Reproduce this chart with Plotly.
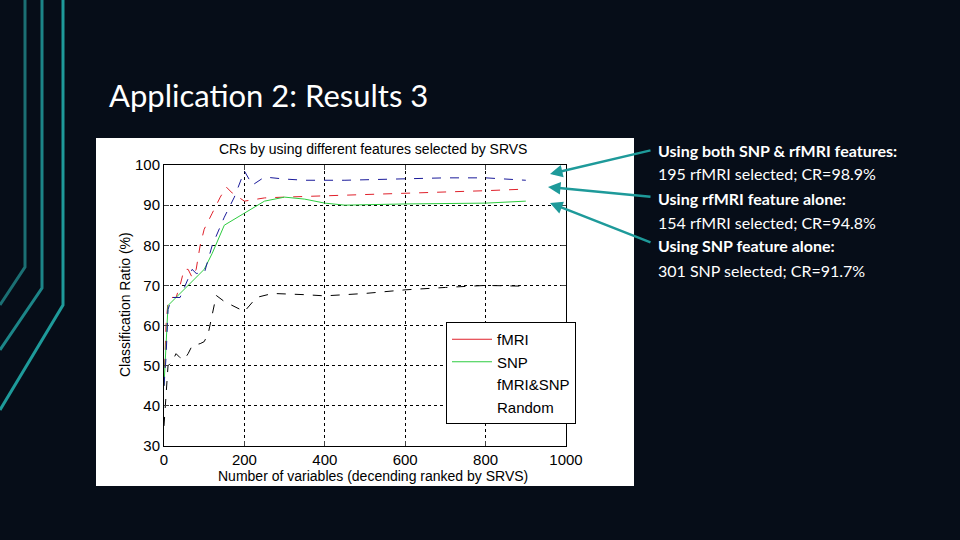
import plotly.graph_objects as go

fmri_x = [0,5,10,20,30,40,50,60,70,80,90,100,120,140,155,170,200,250,300,400,500,600,700,800,900]
fmri_y = [45,60,66,67,67,70,74,74,72,74,80,84,88,92,94.5,93,91,91.8,92,92.3,92.7,93,93.3,93.6,94]
snp_x = [0,10,30,50,80,100,120,150,200,250,300,350,400,450,600,800,900]
snp_y = [45,65,67,69,72,74,78,85,88,91,92,91.5,90.5,90,90.3,90.5,91]
both_x = [0,5,10,20,40,60,70,80,100,120,150,175,200,220,250,300,350,450,600,700,800,900]
both_y = [45,52,64,67,67,72,74,73,73,80,87,92,98.5,95,97,96.5,96.2,96.2,96.5,96.8,96.8,96.2]
rand_x = [0,5,10,20,30,40,50,60,70,90,100,110,130,150,200,230,270,350,400,500,600,700,800,900]
rand_y = [35,44,50,51,53,52,51.5,53,55,55.5,56,58,67.5,66,63.5,67,68,67.7,67.4,68,68.9,69.5,70,69.8]

x_ticks = [0,200,400,600,800,1000]
y_ticks = [30,40,50,60,70,80,90,100]

W, H = 960, 540
def px(x): return x / W
def py(y): return 1 - y / H

fig = go.Figure()
series = [("fMRI", fmri_x, fmri_y, "#e0212b", "dash", "#e0212b"),
          ("SNP", snp_x, snp_y, "#2ecc40", "solid", "#2ecc40"),
          ("fMRI&SNP", both_x, both_y, "#1a1a9a", "dash", "rgba(0,0,0,0)"),
          ("Random", rand_x, rand_y, "black", "dash", "rgba(0,0,0,0)")]
for name, xs, ys, c, d, lc in series:
    fig.add_trace(go.Scatter(x=xs, y=ys, mode="lines", showlegend=False,
                             line=dict(color=c, width=1, dash=d)))
for name, xs, ys, c, d, lc in series:
    fig.add_trace(go.Scatter(x=[None], y=[None], mode="lines", name=name,
                             line=dict(color=lc, width=1)))

shapes = []
teal = "#1e9a9a"
for (xv, yb, x0, y0, c) in [(25, 267, 0, 305, "#1b6f73"), (42, 288, 0, 350, "#1c8588"), (63, 305, 0, 410, teal)]:
    shapes.append(dict(type="path", xref="paper", yref="paper",
                       path=f"M {px(xv)},{py(0)} L {px(xv)},{py(yb)} L {px(x0)},{py(y0)}",
                       line=dict(color=c, width=3)))
shapes.append(dict(type="rect", xref="paper", yref="paper", x0=px(96), x1=px(634), y0=py(486), y1=py(138),
                   fillcolor="white", line=dict(width=0), layer="below"))

annotations = [
    dict(x=px(107), y=py(95), xref="paper", yref="paper", text="Application 2: Results 3", showarrow=False,
         xanchor="left", yanchor="middle", font=dict(family="Lato", size=31, color="white")),
    dict(x=px(373), y=py(149), xref="paper", yref="paper", text="CRs by using different features selected by SRVS",
         showarrow=False, yanchor="middle", font=dict(family="Liberation Sans", size=14, color="black")),
    dict(x=px(373), y=py(476), xref="paper", yref="paper", text="Number of variables (decending ranked by SRVS)",
         showarrow=False, yanchor="middle", font=dict(family="Liberation Sans", size=14, color="black")),
    dict(x=px(125), y=py(305), xref="paper", yref="paper", text="Classification Ratio (%)", textangle=-90,
         showarrow=False, xanchor="center", yanchor="middle",
         font=dict(family="Liberation Sans", size=14, color="black")),
]
lines = [("<b>Using both SNP & rfMRI features:</b>", 150), ("195 rfMRI selected; CR=98.9%", 174),
         ("<b>Using rfMRI feature alone:</b>", 198), ("154 rfMRI selected; CR=94.8%", 222),
         ("<b>Using SNP feature alone:</b>", 246), ("301 SNP selected; CR=91.7%", 270)]
for t, y in lines:
    annotations.append(dict(x=px(656), y=py(y), xref="paper", yref="paper", text=t, showarrow=False,
                            xanchor="left", yanchor="middle", font=dict(family="Lato", size=16, color="white")))
for (sx, sy, ex, ey) in [(652, 150, 550, 174), (652, 197, 548, 187), (652, 243, 550, 203)]:
    annotations.append(dict(x=px(ex), y=py(ey), ax=sx - ex, ay=sy - ey, xref="paper", yref="paper",
                            axref="pixel", ayref="pixel", text="", showarrow=True, arrowhead=2,
                            arrowsize=1, arrowwidth=2.5, arrowcolor=teal))

fig.update_layout(
    width=W, height=H, margin=dict(l=0, r=0, t=0, b=0, autoexpand=False),
    paper_bgcolor="#060d18", plot_bgcolor="white",
    shapes=shapes, annotations=annotations,
    font=dict(family="Liberation Sans", size=14, color="black"),
    showlegend=True,
    legend=dict(x=px(446), y=py(322), xanchor="left", yanchor="top", bgcolor="white",
                bordercolor="black", borderwidth=1, font=dict(size=15, color="black"),
                tracegroupgap=0, itemwidth=40),
    xaxis=dict(domain=[px(164), px(566)], range=[0, 1000], tickvals=x_ticks, showgrid=True, automargin=False,
               gridcolor="black", griddash="dot", gridwidth=1, showline=True, linecolor="black",
               mirror="ticks", ticks="inside", ticklen=5, zeroline=False, tickfont=dict(color="black", size=15)),
    yaxis=dict(domain=[py(446), py(165)], range=[30, 100], tickvals=y_ticks, showgrid=True, automargin=False,
               gridcolor="black", griddash="dot", gridwidth=1, showline=True, linecolor="black",
               mirror="ticks", ticks="inside", ticklen=5, zeroline=False, tickfont=dict(color="black", size=15)),
)
html = fig.to_html(include_plotlyjs=True, full_html=True, config={"displayModeBar": False})
html = html.replace("<head>", "<head><style>html,body{margin:0;padding:0;overflow:hidden;background:#060d18;}</style>", 1)
with open("out.html", "w", encoding="utf-8") as f:
    f.write(html)
